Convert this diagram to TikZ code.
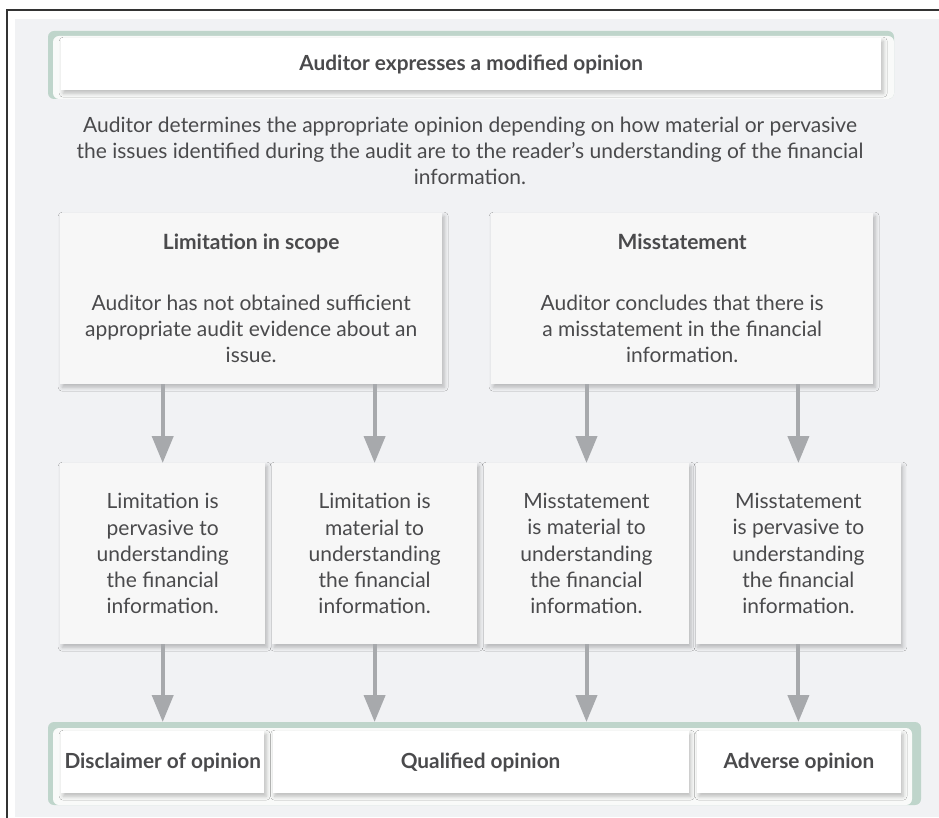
\documentclass[tikz,border=0pt]{standalone}
\usepackage{fontspec}
\setmainfont{Lato}
\usetikzlibrary{positioning,arrows.meta,shadows.blur}
\definecolor{ink}{HTML}{4A4A4C}
\definecolor{paper}{HTML}{F1F2F4}
\definecolor{cardfill}{HTML}{F7F7F7}
\definecolor{sage}{HTML}{BFD5CB}
\definecolor{framelight}{HTML}{F9FAF9}
\definecolor{arrowgrey}{HTML}{A7A9AC}
\definecolor{rulegrey}{HTML}{333333}

\begin{document}
\begin{tikzpicture}[x=1pt,y=-1pt,
  font=\fontsize{21}{26.3}\selectfont, text=ink,
  cardbox/.style={fill=cardfill,align=center,inner sep=0pt,anchor=north west,
    blur shadow={shadow xshift=2pt,shadow yshift=-3pt,shadow blur radius=4pt,shadow opacity=25}},
  whitebox/.style={fill=white,align=center,inner sep=0pt,font=\fontsize{20.8}{26.3}\selectfont\bfseries,
    blur shadow={shadow xshift=2pt,shadow yshift=-3pt,shadow blur radius=4pt,shadow opacity=25}},
  arr/.style={draw=arrowgrey,line width=4pt,-{Triangle[width=21pt,length=27pt]}}]
  \useasboundingbox (0,0) rectangle (939,818);
  % page
  \fill[paper] (15,19) rectangle (939,817);
  \draw[rulegrey,line width=1.5pt] (7,818) -- (7,10) -- (939,10);
  % heading
  \fill[sage,rounded corners=6pt] (48,31) rectangle (894,99);
  \fill[framelight,rounded corners=6pt] (53,36) rectangle (894,99);
  \node[whitebox,anchor=north west,minimum width=820pt,minimum height=52pt] (head) at (61,38)
    {Auditor expresses a modified opinion};
  \node[align=center] (intro) at (470,151)
    {Auditor determines the appropriate opinion depending on how material or pervasive\\
     the issues identified during the audit are to the reader’s understanding of the financial\\
     information.};
  % causes
  \node[cardbox,minimum width=382pt,minimum height=171pt] (lim) at (60,213)
    {\textbf{Limitation in scope}\\[34pt]
     Auditor has not obtained sufficient\\ appropriate audit evidence about an\\ issue.};
  \node[cardbox,minimum width=382pt,minimum height=171pt] (mis) at (491,213)
    {\textbf{Misstatement}\\[34pt]
     Auditor concludes that there is\\ a misstatement in the financial\\ information.};
  % effects
  \node[cardbox,minimum width=205pt,minimum height=181pt] (r1) at (60,463)
    {Limitation is\\ pervasive to\\ understanding\\ the financial\\ information.};
  \node[cardbox,minimum width=205pt,minimum height=181pt,right=6.5pt of r1] (r2)
    {Limitation is\\ material to\\ understanding\\ the financial\\ information.};
  \node[cardbox,minimum width=205pt,minimum height=181pt,right=6.5pt of r2] (r3)
    {Misstatement\\ is material to\\ understanding\\ the financial\\ information.};
  \node[cardbox,minimum width=205pt,minimum height=181pt,right=6.5pt of r3] (r4)
    {Misstatement\\ is pervasive to\\ understanding\\ the financial\\ information.};
  % opinions
  \fill[sage,rounded corners=6pt] (48,722) rectangle (921,805);
  \fill[framelight,rounded corners=6pt] (53,728) rectangle (912,805);
  \coordinate (base) at (48,722);
  \node[whitebox,anchor=north west,minimum width=203pt,minimum height=62pt] (disc) at (61,731)
    {Disclaimer of opinion};
  \node[whitebox,minimum width=416pt,minimum height=62pt,right=8pt of disc] (qual)
    {Qualified opinion};
  \node[whitebox,minimum width=204pt,minimum height=62pt,right=8pt of qual] (adv)
    {Adverse opinion};
  % arrows
  \draw[arr] (lim.south -| r1.north) -- (r1.north);
  \draw[arr] (lim.south -| r2.north) -- (r2.north);
  \draw[arr] (mis.south -| r3.north) -- (r3.north);
  \draw[arr] (mis.south -| r4.north) -- (r4.north);
  \draw[arr] (r1.south) -- (r1.south |- base);
  \draw[arr] (r2.south) -- (r2.south |- base);
  \draw[arr] (r3.south) -- (r3.south |- base);
  \draw[arr] (r4.south) -- (r4.south |- base);
\end{tikzpicture}
\end{document}
